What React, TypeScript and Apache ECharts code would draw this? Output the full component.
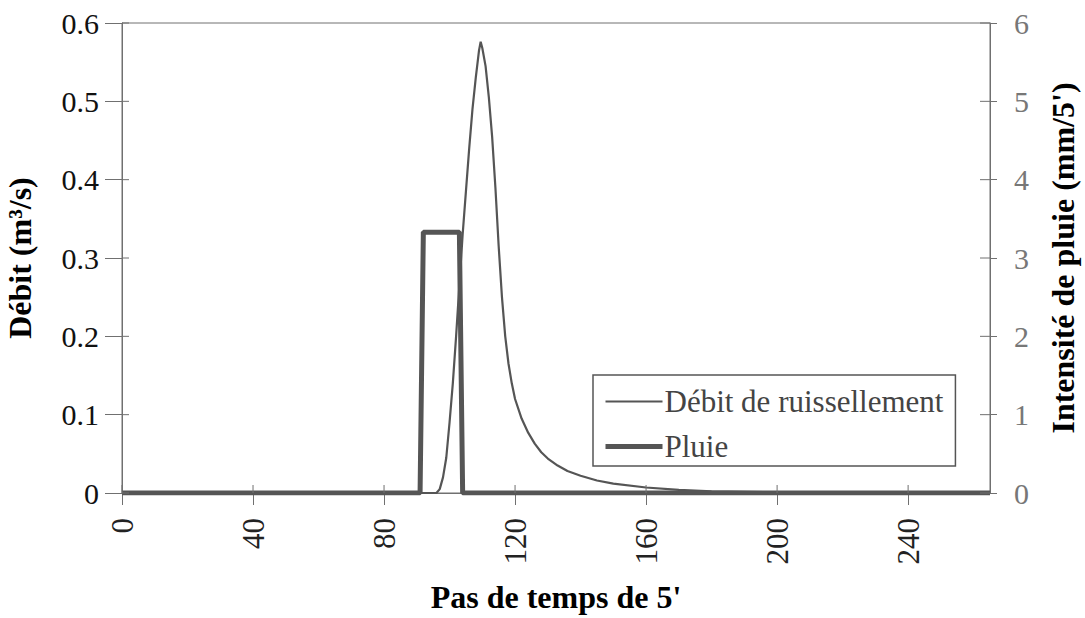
import React, { useEffect, useRef } from 'react';
import * as echarts from 'echarts';

const debitSteps = [0, 96, 97, 98, 99, 100, 101, 102, 103, 104, 105, 106, 107, 108, 109, 109.5, 110, 111, 112, 113, 114, 115, 116, 117, 118, 119, 120, 122, 124, 126, 128, 130, 133, 136, 140, 145, 150, 160, 170, 180, 200, 230, 265];
const debitValues = [0, 0, 0.005, 0.02, 0.045, 0.09, 0.14, 0.2, 0.265, 0.33, 0.385, 0.44, 0.49, 0.53, 0.565, 0.576, 0.568, 0.545, 0.505, 0.455, 0.39, 0.315, 0.25, 0.2, 0.165, 0.14, 0.12, 0.095, 0.077, 0.063, 0.052, 0.044, 0.035, 0.028, 0.022, 0.016, 0.012, 0.007, 0.004, 0.002, 0.001, 0.0005, 0];

const pluieSteps = [0, 91, 92, 103, 104, 265];
const pluieValues = [0, 0, 3.33, 3.33, 0, 0];

const xTicks = [0, 40, 80, 120, 160, 200, 240];
const leftTicks = [0, 0.1, 0.2, 0.3, 0.4, 0.5, 0.6];
const rightTicks = [0, 1, 2, 3, 4, 5, 6];

const X_MAX = 265;
const FONT = '"Liberation Serif", "Times New Roman", serif';
const AXIS_COLOR = '#707070';
const LINE_COLOR = '#555555';

function tickSeries(
  values: number[],
  xAxisIndex: number,
  yAxisIndex: number,
  toPoint: (v: number) => number[],
  dx: number,
  dy: number
) {
  return {
    type: 'custom',
    xAxisIndex,
    yAxisIndex,
    silent: true,
    clip: false,
    z: 5,
    data: values.map(toPoint),
    renderItem: (_params: any, api: any) => {
      const p = api.coord([api.value(0), api.value(1)]);
      return {
        type: 'line',
        shape: { x1: p[0], y1: p[1], x2: p[0] + dx, y2: p[1] + dy },
        style: { stroke: AXIS_COLOR, lineWidth: 1 },
      };
    },
  };
}

export default function App() {
  const ref = useRef<HTMLDivElement>(null);

  useEffect(() => {
    if (!ref.current) return;
    const chart = echarts.init(ref.current, undefined, { renderer: 'svg' });
    const hiddenSymbol = { color: 'transparent', borderWidth: 0, opacity: 0 };
    const option = {
      animation: false,
      backgroundColor: '#ffffff',
      textStyle: { fontFamily: FONT },
      grid: {
        left: 122,
        top: 23,
        width: 868,
        height: 470,
        show: true,
        containLabel: false,
        outerBoundsMode: 'none',
        borderColor: AXIS_COLOR,
        borderWidth: 1,
        backgroundColor: 'transparent',
      },
      legend: {
        data: [
          { name: 'Débit de ruissellement', lineStyle: { width: 2 }, itemStyle: hiddenSymbol },
          { name: 'Pluie', lineStyle: { width: 5 }, itemStyle: hiddenSymbol },
        ],
        orient: 'vertical',
        left: 593,
        top: 375,
        padding: [11, 12, 4, 10],
        itemWidth: 57,
        itemHeight: 32,
        itemGap: 14,
        borderColor: '#555',
        borderWidth: 1.5,
        backgroundColor: '#ffffff',
        textStyle: { fontFamily: FONT, fontSize: 31, color: '#444', padding: [0, 0, 0, -3] },
      },
      xAxis: [
        {
          type: 'value',
          min: 0,
          max: X_MAX,
          interval: 40,
          splitLine: { show: false },
          axisLine: { show: true, onZero: false, lineStyle: { color: AXIS_COLOR, width: 1 } },
          axisTick: { show: true, inside: false, length: 12, lineStyle: { color: AXIS_COLOR } },
          axisLabel: {
            rotate: 90,
            margin: 25,
            fontFamily: FONT,
            fontSize: 31,
            color: '#222',
            showMaxLabel: false,
          },
          name: "Pas de temps de 5'",
          nameLocation: 'middle',
          nameGap: 88,
          nameTextStyle: { fontFamily: FONT, fontSize: 32, fontWeight: 'bold', color: '#000' },
        },
      ],
      yAxis: [
        {
          type: 'value',
          position: 'left',
          min: 0,
          max: 0.6,
          interval: 0.1,
          splitLine: { show: false },
          axisLine: { show: true, lineStyle: { color: AXIS_COLOR, width: 1 } },
          axisTick: { show: true, inside: false, length: 17, lineStyle: { color: AXIS_COLOR } },
          axisLabel: {
            margin: 23,
            fontFamily: FONT,
            fontSize: 30,
            color: '#111',
            formatter: (v: number) => (v === 0 ? '0' : v.toFixed(1)),
          },
          name: 'Débit (m³/s)',
          nameLocation: 'middle',
          nameGap: 86,
          nameTextStyle: { fontFamily: FONT, fontSize: 32, fontWeight: 'bold', color: '#000' },
        },
        {
          type: 'value',
          position: 'right',
          min: 0,
          max: 6,
          interval: 1,
          splitLine: { show: false },
          axisLine: { show: true, lineStyle: { color: AXIS_COLOR, width: 1 } },
          axisTick: { show: true, inside: false, length: 7, lineStyle: { color: AXIS_COLOR } },
          axisLabel: {
            margin: 24,
            fontFamily: FONT,
            fontSize: 30,
            color: '#777',
          },
          name: "Intensité de pluie (mm/5')",
          nameLocation: 'middle',
          nameGap: 57,
          nameTextStyle: { fontFamily: FONT, fontSize: 32, fontWeight: 'bold', color: '#000' },
        },
      ],
      series: [
        {
          name: 'Débit de ruissellement',
          type: 'line',
          xAxisIndex: 0,
          yAxisIndex: 0,
          symbol: 'none',
          smooth: false,
          data: debitSteps.map((s, i) => [s, debitValues[i]]),
          lineStyle: { color: LINE_COLOR, width: 2.2 },
          itemStyle: { color: LINE_COLOR },
          z: 3,
        },
        {
          name: 'Pluie',
          type: 'line',
          xAxisIndex: 0,
          yAxisIndex: 1,
          symbol: 'none',
          data: pluieSteps.map((s, i) => [s, pluieValues[i]]),
          lineStyle: { color: LINE_COLOR, width: 5 },
          itemStyle: { color: LINE_COLOR },
          z: 4,
        },
        tickSeries(xTicks, 0, 0, (v) => [v, 0], 0, -8),
        tickSeries(leftTicks, 0, 0, (v) => [0, v], 7, 0),
        tickSeries(rightTicks, 0, 1, (v) => [X_MAX, v], -10, 0),
      ],
    };
    chart.setOption(option as any);
    return () => chart.dispose();
  }, []);

  return (
    <div
      ref={ref}
      style={{ position: 'absolute', left: 0, top: 0, width: 1085, height: 618, background: '#fff' }}
    />
  );
}
